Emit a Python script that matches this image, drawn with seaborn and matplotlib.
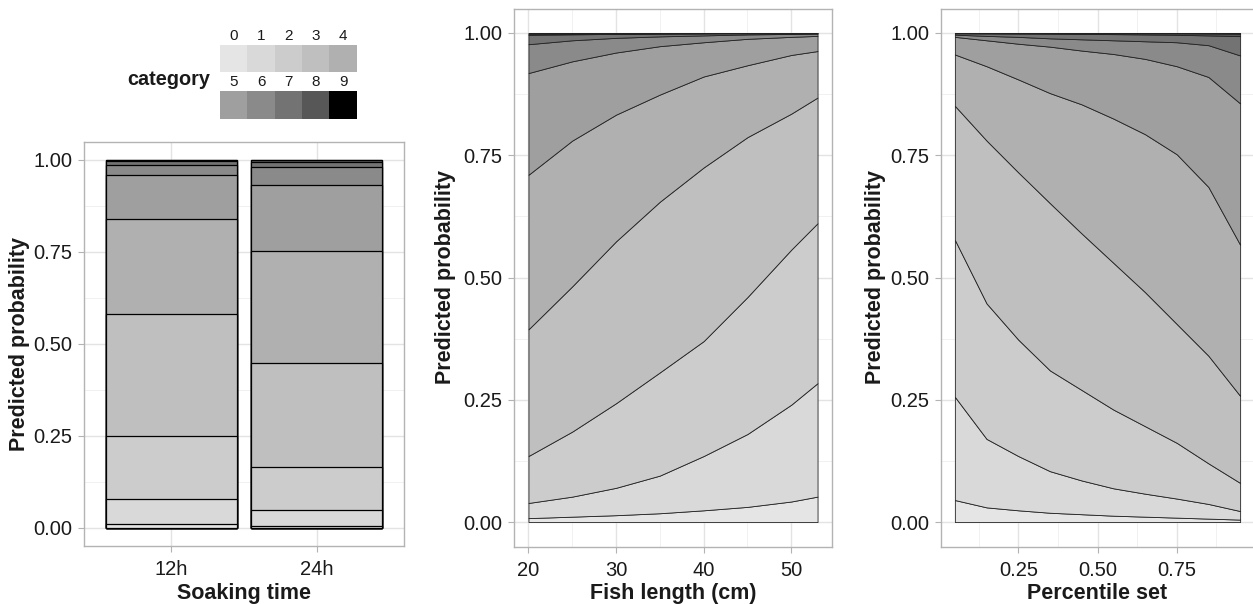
import numpy as np
import matplotlib
matplotlib.use('Agg')
import matplotlib.pyplot as plt
from matplotlib.colors import ListedColormap
from matplotlib.ticker import MultipleLocator, FixedLocator
import seaborn as sns

# category colours, light (0) to black (9)
categories = ['0', '1', '2', '3', '4', '5', '6', '7', '8', '9']
grey_fill = ['#E5E5E5', '#D9D9D9', '#CCCCCC', '#BFBFBF', '#B0B0B0',
             '#9F9F9F', '#8A8A8A', '#737373', '#575757', '#000000']

# panel 1: cumulative predicted probability (upper edge of each category)
soak_time = ['12h', '24h']
soak_cum_12h = [0.0105, 0.077, 0.250, 0.581, 0.839, 0.960, 0.987, 0.9965, 0.9993, 1.0]
soak_cum_24h = [0.005, 0.047, 0.164, 0.448, 0.753, 0.933, 0.980, 0.9946, 0.9990, 1.0]

# panel 2: cumulative boundaries vs fish length
fish_length = [20, 25, 30, 35, 40, 45, 50, 53]
len_cum0 = [0.008, 0.011, 0.014, 0.018, 0.024, 0.031, 0.042, 0.052]
len_cum1 = [0.039, 0.052, 0.070, 0.095, 0.135, 0.180, 0.240, 0.284]
len_cum2 = [0.135, 0.185, 0.243, 0.306, 0.370, 0.460, 0.557, 0.611]
len_cum3 = [0.394, 0.482, 0.574, 0.655, 0.725, 0.787, 0.835, 0.868]
len_cum4 = [0.710, 0.780, 0.833, 0.874, 0.911, 0.934, 0.955, 0.963]
len_cum5 = [0.918, 0.942, 0.960, 0.973, 0.981, 0.988, 0.992, 0.994]
len_cum6 = [0.977, 0.985, 0.990, 0.993, 0.995, 0.997, 0.998, 0.9986]
len_cum7 = [0.9960, 0.9972, 0.9980, 0.9986, 0.9990, 0.9993, 0.9995, 0.9996]
len_cum8 = [0.9985, 0.9989, 0.9992, 0.9994, 0.9996, 0.9997, 0.9998, 0.9998]

# panel 3: cumulative boundaries vs percentile set
percentile = [0.05, 0.15, 0.25, 0.35, 0.45, 0.55, 0.65, 0.75, 0.85, 0.95]
pct_cum0 = [0.045, 0.030, 0.024, 0.019, 0.016, 0.013, 0.011, 0.009, 0.007, 0.005]
pct_cum1 = [0.256, 0.170, 0.135, 0.104, 0.085, 0.069, 0.058, 0.048, 0.037, 0.0225]
pct_cum2 = [0.577, 0.447, 0.373, 0.310, 0.270, 0.230, 0.196, 0.162, 0.120, 0.080]
pct_cum3 = [0.851, 0.780, 0.715, 0.652, 0.590, 0.530, 0.470, 0.405, 0.340, 0.258]
pct_cum4 = [0.956, 0.932, 0.905, 0.877, 0.854, 0.825, 0.793, 0.752, 0.685, 0.567]
pct_cum5 = [0.992, 0.985, 0.978, 0.972, 0.964, 0.957, 0.947, 0.932, 0.910, 0.856]
pct_cum6 = [0.9965, 0.994, 0.992, 0.989, 0.987, 0.985, 0.983, 0.981, 0.975, 0.954]
pct_cum7 = [0.9992, 0.9990, 0.9987, 0.9984, 0.9980, 0.9976, 0.9970, 0.9962, 0.9950, 0.9935]
pct_cum8 = [0.9999, 0.9998, 0.9998, 0.9997, 0.9996, 0.9995, 0.9994, 0.9992, 0.9990, 0.9985]

sns.set_theme(style='white')
plt.rcParams['font.family'] = ['Liberation Sans', 'DejaVu Sans']

TEXT = '#1a1a1a'
W, H = 1253, 604


def box(x0, x1, ytop, ybot):
    return [x0 / W, (H - ybot) / H, (x1 - x0) / W, (ybot - ytop) / H]


def style_axes(ax, xlabel, ylabel_x):
    for s in ax.spines.values():
        s.set_visible(True)
        s.set_color('#B3B3B3')
        s.set_linewidth(1.0)
    ax.set_ylim(-0.05, 1.05)
    ax.yaxis.set_major_locator(FixedLocator([0, 0.25, 0.5, 0.75, 1.0]))
    ax.yaxis.set_minor_locator(FixedLocator([0.125, 0.375, 0.625, 0.875]))
    ax.set_yticklabels(['0.00', '0.25', '0.50', '0.75', '1.00'])
    ax.tick_params(which='major', length=4.6, width=0.8, color='#B3B3B3',
                   labelsize=14.5, labelcolor=TEXT, pad=3.6,
                   left=True, bottom=True)
    ax.tick_params(axis='x', which='major', pad=5.5)
    ax.tick_params(which='minor', length=0)
    ax.grid(which='major', color='#E3E3E3', linewidth=1.0)
    ax.grid(which='minor', color='#EFEFEF', linewidth=0.6)
    ax.set_axisbelow(True)
    ax.set_xlabel(xlabel, fontsize=15.5, fontweight='bold', color=TEXT, labelpad=2.5)
    ax.set_ylabel('Predicted probability', fontsize=15.5, fontweight='bold', color=TEXT)
    ax.yaxis.label.set_verticalalignment('center')
    ax.yaxis.set_label_coords(ylabel_x, 0.5)


fig = plt.figure(figsize=(W / 100, H / 100), dpi=100)

# ---- panel 1: stacked bars (drawn as overlapping cumulative bars, top category first)
ax1 = fig.add_axes(box(84, 404, 141.6, 546))
for k in range(9, -1, -1):
    sns.barplot(x=soak_time, y=[soak_cum_12h[k], soak_cum_24h[k]], color=grey_fill[k],
                saturation=1, width=0.9, edgecolor='black', linewidth=0.9,
                errorbar=None, ax=ax1)
ax1.set_xlim(-0.6, 1.6)
style_axes(ax1, 'Soaking time', -0.203)
ax1.grid(which='minor', axis='x', visible=False)

# ---- panel 2: areas vs fish length
ax2 = fig.add_axes(box(514, 832, 8.5, 546.5))
len_bounds = [np.zeros(len(fish_length)), len_cum0, len_cum1, len_cum2, len_cum3,
              len_cum4, len_cum5, len_cum6, len_cum7, len_cum8, np.ones(len(fish_length))]
for k in range(10):
    ax2.fill_between(fish_length, len_bounds[k], len_bounds[k + 1], facecolor=grey_fill[k],
                     edgecolor='#222222', linewidth=0.6)
ax2.set_xlim(20 - 1.65, 53 + 1.65)
ax2.xaxis.set_major_locator(MultipleLocator(10))
ax2.xaxis.set_minor_locator(MultipleLocator(5))
style_axes(ax2, 'Fish length (cm)', -0.215)

# ---- panel 3: areas vs percentile set
ax3 = fig.add_axes(box(940.6, 1254.4, 8.5, 546.5))
pct_bounds = [np.zeros(len(percentile)), pct_cum0, pct_cum1, pct_cum2, pct_cum3,
              pct_cum4, pct_cum5, pct_cum6, pct_cum7, pct_cum8, np.ones(len(percentile))]
for k in range(10):
    ax3.fill_between(percentile, pct_bounds[k], pct_bounds[k + 1], facecolor=grey_fill[k],
                     edgecolor='#222222', linewidth=0.6)
ax3.set_xlim(0.05 - 0.045, 0.95 + 0.045)
ax3.xaxis.set_major_locator(FixedLocator([0.25, 0.5, 0.75]))
ax3.xaxis.set_minor_locator(FixedLocator([0.125, 0.375, 0.625, 0.875]))
ax3.set_xticklabels(['0.25', '0.50', '0.75'])
style_axes(ax3, 'Percentile set', -0.209)

# ---- legend: two rows of colour keys
cmap = ListedColormap(grey_fill)
for row, (ytop, ybot) in enumerate([(45, 72.3), (91, 119)]):
    lax = fig.add_axes(box(220, 356.7, ytop, ybot))
    vals = np.arange(row * 5, row * 5 + 5).reshape(1, 5)
    sns.heatmap(vals, cmap=cmap, vmin=-0.5, vmax=9.5, cbar=False,
                xticklabels=categories[row * 5:row * 5 + 5], yticklabels=False, ax=lax)
    lax.xaxis.tick_top()
    lax.tick_params(axis='x', length=0, pad=1.5, labelsize=11, labelcolor=TEXT, rotation=0)
    lax.set_xlabel('')
    lax.set_ylabel('')
fig.text(168.3 / W, (H - 85) / H, 'category', ha='center', va='baseline',
         fontsize=14.3, fontweight='bold', color=TEXT)

fig.savefig('out.png', dpi=100)
